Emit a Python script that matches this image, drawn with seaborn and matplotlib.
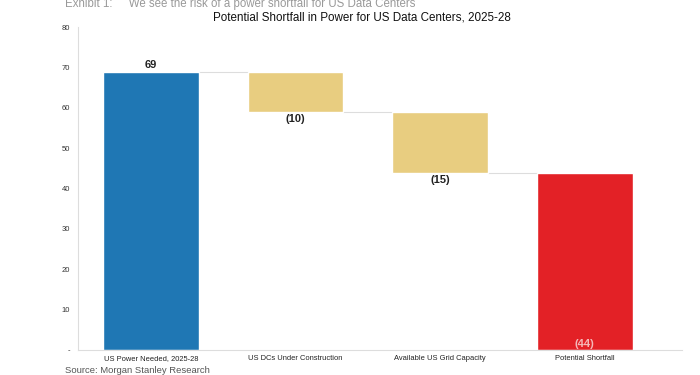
import matplotlib
matplotlib.use("Agg")
import matplotlib.pyplot as plt
import seaborn as sns

categories = ["US Power Needed, 2025-28", "US DCs Under Construction",
              "Available US Grid Capacity", "Potential Shortfall"]
changes = [69, -10, -15, -44]          # last one is the resulting total
value_labels = ["69", "(10)", "(15)", "(44)"]
bar_colors = ["#1F77B4", "#E8CD80", "#E8CD80", "#E32126"]
y_ticks = [0, 10, 20, 30, 40, 50, 60, 70, 80]
y_tick_labels = ["-", "10", "20", "30", "40", "50", "60", "70", "80"]

# waterfall: floating bottoms and heights
bottoms, heights, tops = [], [], []
running = 0
for i, v in enumerate(changes):
    if i == 0:
        bottoms.append(0); heights.append(v); running = v
    elif i == len(changes) - 1:
        bottoms.append(0); heights.append(running)
    else:
        running += v
        bottoms.append(running); heights.append(-v)
    tops.append(bottoms[-1] + heights[-1])

sns.set_style("white")
plt.rcParams["font.family"] = ["Liberation Sans", "DejaVu Sans"]

fig = plt.figure(figsize=(7, 3.75), dpi=100)
ax = fig.add_axes([0.112, 0.067, 0.862, 0.86])

sns.barplot(x=categories, y=heights, hue=categories, palette=bar_colors,
            width=0.66, legend=False, ax=ax, saturation=1)
for patch, b in zip(ax.patches, bottoms):
    patch.set_y(b)

# connector lines
for i in range(len(categories) - 1):
    level = tops[i] if i == 0 else bottoms[i]
    ax.plot([i + 0.33, i + 1 - 0.33], [level, level], color="#DDDDDD", lw=0.8, zorder=0)

# value labels
ax.text(0, tops[0] + 0.4, value_labels[0], ha="center", va="bottom",
        fontsize=8, fontweight="bold", color="#222222")
for i in (1, 2):
    ax.text(i, bottoms[i] - 0.6, value_labels[i], ha="center", va="top",
            fontsize=8, fontweight="bold", color="#222222")
ax.text(3, 0.3, value_labels[3], ha="center", va="bottom",
        fontsize=8, fontweight="bold", color="#F4B8B8")

ax.set_xlim(-0.5, 3.67)
ax.set_ylim(0, 80)
ax.set_yticks(y_ticks)
ax.set_yticklabels(y_tick_labels)
ax.tick_params(axis="y", labelsize=5.5, colors="#333333", length=0, pad=6)
ax.tick_params(axis="x", labelsize=5.4, colors="#222222", length=0, pad=4)
for s in ["top", "right"]:
    ax.spines[s].set_visible(False)
for s in ["left", "bottom"]:
    ax.spines[s].set_color("#DDDDDD")
    ax.spines[s].set_linewidth(0.8)

fig.text(0.517, 0.953, "Potential Shortfall in Power for US Data Centers, 2025-28",
         fontsize=8.4, color="#111111", ha="center", va="center")

fig.text(0.093, 0.988, "Exhibit 1:     We see the risk of a power shortfall for US Data Centers",
         fontsize=8.3, color="#999999", va="center")
fig.text(0.093, 0.012, "Source: Morgan Stanley Research",
         fontsize=6.8, color="#555555", va="center")

fig.savefig("out.png", dpi=100)
